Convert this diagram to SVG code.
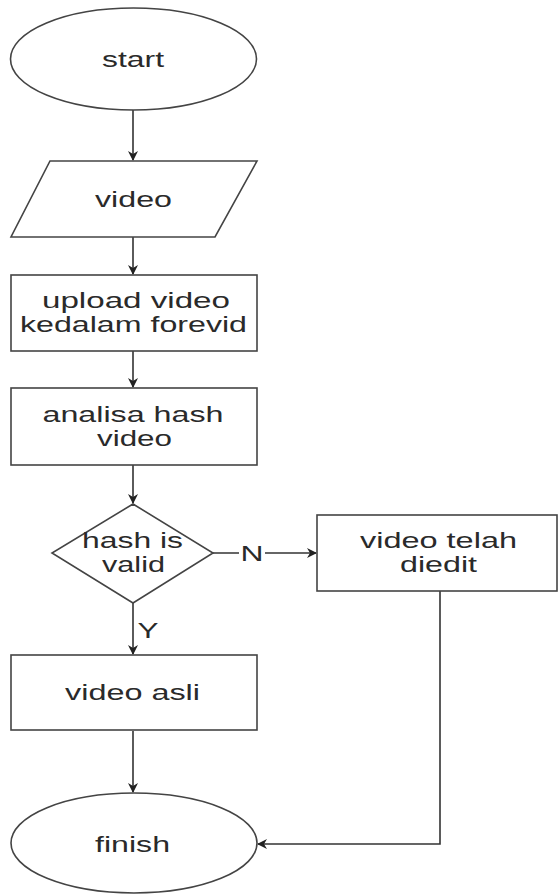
<svg xmlns="http://www.w3.org/2000/svg" width="558" height="894" viewBox="0 0 558 894">
<style>
.s{fill:#fff;stroke:#444;stroke-width:1.6}
.c{fill:none;stroke:#333;stroke-width:1.6}
text{font-family:"Liberation Sans",Arial,sans-serif;font-size:22px;fill:#2a2a2a;text-anchor:middle}
</style>
<defs>
<marker id="a" viewBox="0 0 10 10" refX="9" refY="5" markerWidth="10" markerHeight="10" markerUnits="userSpaceOnUse" orient="auto">
<path d="M0,0 L10,5 L0,10 L3,5 Z" fill="#222"/>
</marker>
</defs>
<rect width="558" height="894" fill="#fff"/>
<g id="connectors">
<line class="c" x1="133" y1="110" x2="133" y2="160" marker-end="url(#a)"/>
<line class="c" x1="133" y1="237" x2="133" y2="274" marker-end="url(#a)"/>
<line class="c" x1="133" y1="351" x2="133" y2="387" marker-end="url(#a)"/>
<line class="c" x1="133" y1="465" x2="133" y2="503" marker-end="url(#a)"/>
<line class="c" x1="213" y1="553" x2="316" y2="553" marker-end="url(#a)"/>
<line class="c" x1="133" y1="603" x2="133" y2="654" marker-end="url(#a)"/>
<line class="c" x1="133" y1="731" x2="133" y2="792" marker-end="url(#a)"/>
<polyline class="c" points="440,591 440,844 258,844" marker-end="url(#a)"/>
<rect x="239" y="541" width="26" height="24" fill="#fff"/>
<text x="252" y="561" textLength="23" lengthAdjust="spacingAndGlyphs">N</text>
<text x="148" y="638" textLength="21" lengthAdjust="spacingAndGlyphs">Y</text>
</g>
<g id="start">
<ellipse class="s" cx="133.5" cy="59" rx="123" ry="51"/>
<text x="133" y="67" textLength="62" lengthAdjust="spacingAndGlyphs">start</text>
</g>
<g id="video-input">
<polygon class="s" points="50,161 257,161 215,237 11,237"/>
<text x="133.5" y="207" textLength="77" lengthAdjust="spacingAndGlyphs">video</text>
</g>
<g id="upload">
<rect class="s" x="11" y="275" width="246" height="76"/>
<text x="136" y="308" textLength="188" lengthAdjust="spacingAndGlyphs">upload video</text>
<text x="133.5" y="332" textLength="227" lengthAdjust="spacingAndGlyphs">kedalam forevid</text>
</g>
<g id="analisa">
<rect class="s" x="11" y="388" width="246" height="77"/>
<text x="133" y="422" textLength="181" lengthAdjust="spacingAndGlyphs">analisa hash</text>
<text x="134.5" y="446" textLength="75" lengthAdjust="spacingAndGlyphs">video</text>
</g>
<g id="decision">
<polygon class="s" points="133,504 213,553 133,603 52,553"/>
<text x="132.5" y="548" textLength="101" lengthAdjust="spacingAndGlyphs">hash is</text>
<text x="133.5" y="572" textLength="63" lengthAdjust="spacingAndGlyphs">valid</text>
</g>
<g id="diedit">
<rect class="s" x="317" y="515" width="240" height="76"/>
<text x="438.5" y="548" textLength="157" lengthAdjust="spacingAndGlyphs">video telah</text>
<text x="438.5" y="572" textLength="77" lengthAdjust="spacingAndGlyphs">diedit</text>
</g>
<g id="asli">
<rect class="s" x="11" y="655" width="246" height="75"/>
<text x="132.5" y="700" textLength="135" lengthAdjust="spacingAndGlyphs">video asli</text>
</g>
<g id="finish">
<ellipse class="s" cx="134" cy="843" rx="123" ry="50"/>
<text x="132.5" y="852" textLength="75" lengthAdjust="spacingAndGlyphs">finish</text>
</g>
</svg>
